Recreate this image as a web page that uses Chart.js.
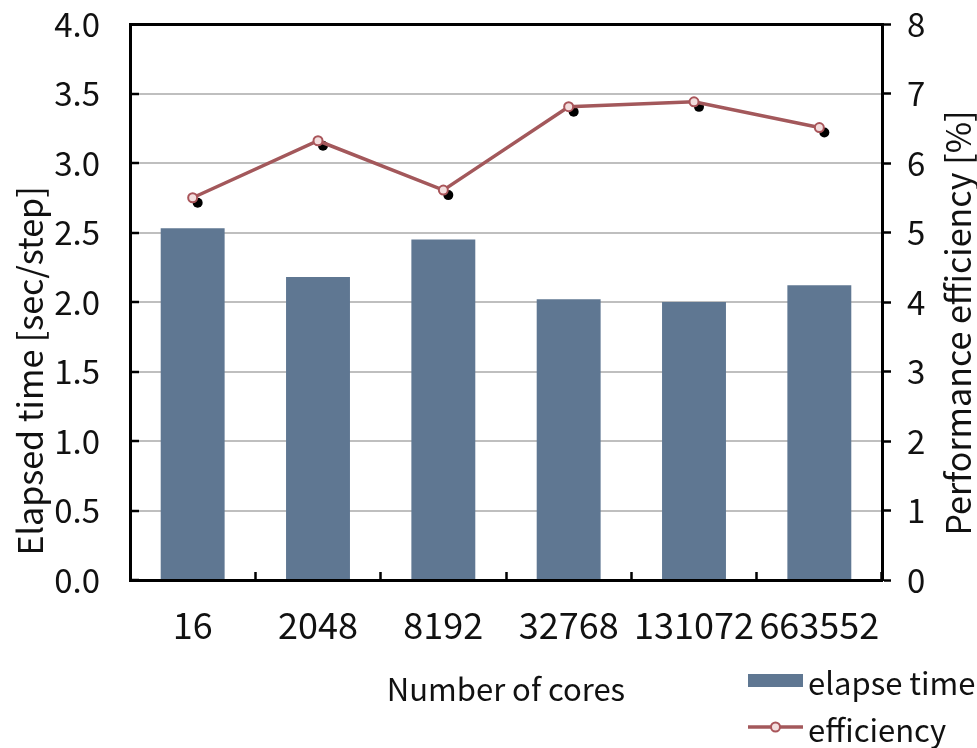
<!DOCTYPE html>
<html>
<head>
<meta charset="utf-8">
<script src="https://cdn.jsdelivr.net/npm/chart.js@4.4.1/dist/chart.umd.min.js"></script>
<style>
  html, body { margin: 0; padding: 0; background: #ffffff; }
  #wrap { width: 977px; height: 748px; }
</style>
</head>
<body>
<div id="wrap"><canvas id="chart" width="977" height="748"></canvas></div>
<script>
// Number of cores on the horizontal axis
const cores = ['16', '2048', '8192', '32768', '131072', '663552'];
// Elapsed time per step [sec/step] (bars, left axis)
const elapsedTime = [2.53, 2.18, 2.45, 2.02, 2.00, 2.12];
// Performance efficiency [%] (line, right axis)
const efficiency = [5.50, 6.32, 5.61, 6.81, 6.88, 6.51];

const FONT = "'Noto Sans CJK JP', 'Noto Sans', sans-serif";
const BAR_COLOR = '#5f7792';
const LINE_COLOR = '#a3585b';
const MARKER_FILL = '#f3dede';

// Axis titles, dot shadows under the markers and the legend
const decorations = {
  id: 'decorations',
  beforeDatasetDraw(chart, args) {
    if (args.index !== 1) return;
    const ctx = chart.ctx;
    ctx.save();
    ctx.fillStyle = '#000000';
    for (const pt of args.meta.data) {
      ctx.beginPath();
      ctx.arc(pt.x + 5, pt.y + 5, 5, 0, Math.PI * 2);
      ctx.fill();
    }
    ctx.restore();
  },
  afterDraw(chart) {
    const ctx = chart.ctx;
    ctx.save();
    ctx.fillStyle = '#111111';
    ctx.font = '34px ' + FONT;
    ctx.textAlign = 'center';
    ctx.textBaseline = 'middle';
    const vTitle = (text, x, y) => {
      ctx.save();
      ctx.translate(x, y);
      ctx.rotate(-Math.PI / 2);
      ctx.fillText(text, 0, 0);
      ctx.restore();
    };
    vTitle('Elapsed time [sec/step]', 30, 371);
    vTitle('Performance efficiency [%]', 958, 323);

    // legend
    const ds = chart.data.datasets;
    ctx.font = '31px ' + FONT;
    ctx.textAlign = 'left';
    const lx = 748, lw = 55;
    ctx.fillStyle = ds[0].backgroundColor;
    ctx.fillRect(lx, 674, lw, 13);
    ctx.fillStyle = '#111111';
    ctx.fillText(ds[0].label, lx + lw + 5, 683);

    ctx.strokeStyle = ds[1].borderColor;
    ctx.lineWidth = 3.5;
    ctx.beginPath();
    ctx.moveTo(lx, 727);
    ctx.lineTo(lx + lw, 727);
    ctx.stroke();
    ctx.beginPath();
    ctx.arc(lx + lw / 2, 727, 4.5, 0, Math.PI * 2);
    ctx.fillStyle = ds[1].pointBackgroundColor;
    ctx.fill();
    ctx.lineWidth = 2;
    ctx.strokeStyle = ds[1].pointBorderColor;
    ctx.stroke();
    ctx.fillStyle = '#111111';
    ctx.fillText(ds[1].label, lx + lw + 5, 730);
    ctx.restore();
  }
};

// Fixed axis box sizes so the plot area sits where the layout wants it
const fixBox = (w, h) => (scale) => {
  if (w !== null) scale.width = w;
  if (h !== null) scale.height = h;
  scale.paddingTop = 0;
  scale.paddingBottom = 0;
  scale.paddingLeft = 0;
  scale.paddingRight = 0;
};

new Chart(document.getElementById('chart'), {
  data: {
    labels: cores,
    datasets: [
      {
        type: 'bar',
        label: 'elapse time',
        data: elapsedTime,
        yAxisID: 'y',
        backgroundColor: BAR_COLOR,
        borderWidth: 0,
        categoryPercentage: 1.0,
        barPercentage: 0.51,
        order: 2
      },
      {
        type: 'line',
        label: 'efficiency',
        data: efficiency,
        yAxisID: 'y2',
        borderColor: LINE_COLOR,
        borderWidth: 3.5,
        pointRadius: 4.5,
        pointBackgroundColor: MARKER_FILL,
        pointBorderColor: '#a9555a',
        pointBorderWidth: 2,
        tension: 0,
        order: 1
      }
    ]
  },
  options: {
    responsive: false,
    animation: false,
    layout: { padding: { top: 24, left: 0, right: 0, bottom: 0 } },
    plugins: {
      legend: { display: false },
      tooltip: { enabled: false }
    },
    scales: {
      x: {
        type: 'category',
        offset: true,
        grid: {
          offset: true,
          drawOnChartArea: false,
          drawTicks: true,
          tickLength: -8,
          tickColor: '#000000',
          tickWidth: 2.5
        },
        border: { display: true, color: '#000000', width: 3 },
        ticks: {
          autoSkip: false,
          maxRotation: 0,
          minRotation: 0,
          color: '#111111',
          padding: 32,
          font: { family: FONT, size: 36 }
        },
        title: {
          display: true,
          text: 'Number of cores',
          color: '#111111',
          font: { family: FONT, size: 31 },
          padding: { top: 0, bottom: 40 }
        },
        afterFit: fixBox(null, 168)
      },
      y: {
        position: 'left',
        min: 0,
        max: 4,
        ticks: {
          stepSize: 0.5,
          color: '#111111',
          padding: 39,
          font: { family: FONT, size: 33 },
          callback: (v) => Number(v).toFixed(1)
        },
        grid: {
          color: (c) => (c.tick && c.tick.value === 4 ? '#000000' : '#bfbfbf'),
          lineWidth: (c) => (c.tick && c.tick.value === 4 ? 3 : 2),
          drawTicks: true,
          tickLength: -9,
          tickColor: '#000000',
          tickWidth: 2.5
        },
        border: { display: true, color: '#000000', width: 3 },
        afterFit: fixBox(130, null)
      },
      y2: {
        position: 'right',
        min: 0,
        max: 8,
        ticks: {
          stepSize: 1,
          color: '#111111',
          padding: 16,
          font: { family: FONT, size: 33 }
        },
        grid: {
          drawOnChartArea: false,
          drawTicks: true,
          tickLength: 9,
          tickColor: '#000000',
          tickWidth: 2.5
        },
        border: { display: true, color: '#000000', width: 3 },
        afterFit: fixBox(95, null)
      }
    }
  },
  plugins: [decorations]
});
</script>
</body>
</html>
